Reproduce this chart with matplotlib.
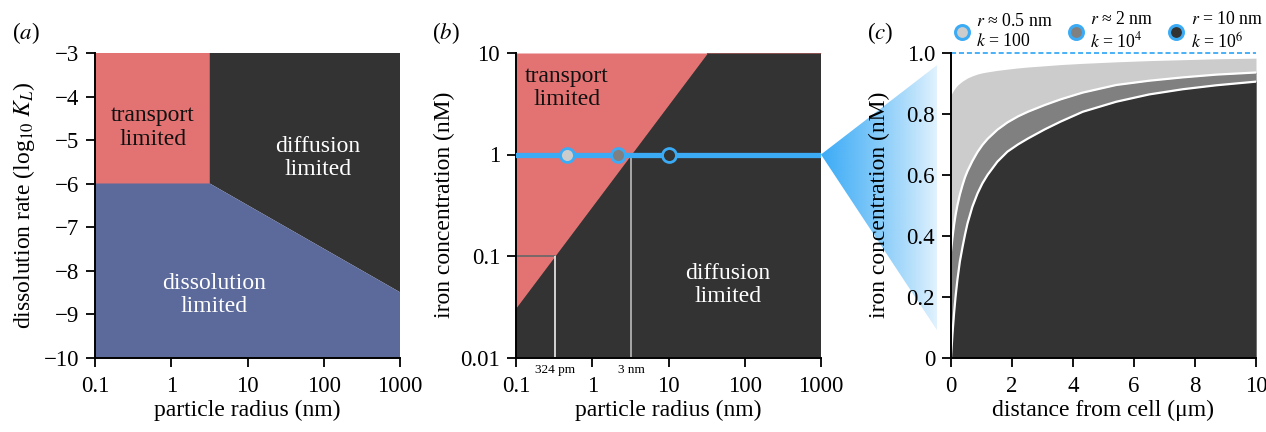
import numpy as np
import matplotlib
matplotlib.use('Agg')
import matplotlib.pyplot as plt
from matplotlib.patches import Polygon
from matplotlib.lines import Line2D
from matplotlib.colors import to_rgb

plt.rcParams['font.family'] = ['Liberation Serif', 'DejaVu Serif']
plt.rcParams['mathtext.fontset'] = 'stix'
plt.rcParams['font.size'] = 16.5
plt.rcParams['axes.unicode_minus'] = True

# ---------------- colours ----------------
RED = '#E37272'
BLUE_REGION = '#5C6A9B'
DARK = '#333333'
SKY = '#3BABF6'
LIGHT = '#CCCCCC'
MID = '#808080'

# ---------------- panel (a) data ----------------
a_transport_r = [0.1, 3.2, 3.2, 0.1]
a_transport_logk = [-3, -3, -6, -6]
a_diffusion_r = [3.2, 1000, 1000, 3.2]
a_diffusion_logk = [-3, -3, -8.5, -6]
a_dissolution_r = [0.1, 3.2, 1000, 1000, 0.1]
a_dissolution_logk = [-6, -6, -8.5, -10, -10]
r_ticks = [0.1, 1, 10, 100, 1000]
r_ticklabels = ['0.1', '1', '10', '100', '1000']
a_yticks = [-3, -4, -5, -6, -7, -8, -9, -10]

# ---------------- panel (b) data ----------------
b_boundary_r = [0.1, 1000]
b_boundary_c = [0.0309, 309]
b_line_c = 1.0
b_marker_r = [0.46, 2.15, 10]
b_marker_colors = [LIGHT, MID, DARK]
b_mark_r = [0.324, 3.24]
b_mark_c = [0.1, 1.0]
b_mark_labels = ['324 pm', '3 nm']
b_mark_colors = ['#EEEEEE', '#BBBBBB']
b_yticks = [0.01, 0.1, 1, 10]
b_yticklabels = ['0.01', '0.1', '1', '10']

# ---------------- panel (c) data ----------------
c_x = [0, 0.05, 0.1, 0.15, 0.21, 0.29, 0.38, 0.46, 0.54, 0.7, 0.87, 1.03, 1.2,
       1.52, 1.85, 2.2, 2.52, 3.07, 3.6, 4.32, 5.42, 6.5, 7.6, 8.7, 10]
c_small = [0.862, 0.872, 0.880, 0.887, 0.894, 0.901, 0.908, 0.913, 0.918, 0.925, 0.931,
           0.935, 0.938, 0.943, 0.947, 0.951, 0.954, 0.958, 0.962, 0.966, 0.971, 0.975,
           0.978, 0.981, 0.983]
c_medium = [0.35, 0.395, 0.435, 0.468, 0.5, 0.535, 0.567, 0.592, 0.612, 0.645, 0.675,
            0.698, 0.718, 0.748, 0.772, 0.792, 0.807, 0.829, 0.848, 0.870, 0.895, 0.909,
            0.920, 0.929, 0.936]
c_large = [0.0, 0.08, 0.145, 0.2, 0.255, 0.315, 0.364, 0.404, 0.44, 0.495, 0.539,
           0.572, 0.60, 0.643, 0.676, 0.70, 0.719, 0.749, 0.775, 0.807, 0.840, 0.864,
           0.881, 0.894, 0.906]
c_xticks = [0, 2, 4, 6, 8, 10]
c_yticks = [0, 0.2, 0.4, 0.6, 0.8, 1.0]
c_yticklabels = ['0', '0.2', '0.4', '0.6', '0.8', '1.0']
legend_r = ['0.5', '2', '10']
legend_rel = ['≈', '≈', '=']
legend_k = ['100', '10$^4$', '10$^6$']
legend_colors = [LIGHT, MID, DARK]

# ---------------- figure ----------------
W, H = 1266, 432
fig = plt.figure(figsize=(W / 100, H / 100), dpi=100)

def px_axes(left, top, right, bottom):
    return fig.add_axes([left / W, 1 - bottom / H, (right - left) / W, (bottom - top) / H])

ax_a = px_axes(95, 53, 400, 357.5)
ax_b = px_axes(516, 53, 821, 357.5)
ax_c = px_axes(951, 53, 1256, 357.5)

def style(ax):
    for s in ['top', 'right']:
        ax.spines[s].set_visible(False)
    for s in ['left', 'bottom']:
        ax.spines[s].set_linewidth(1.4)
    ax.tick_params(direction='out', length=6.5, width=1.3, labelsize=16.5)
    ax.tick_params(axis='x', pad=7)
    ax.tick_params(axis='y', pad=5)
    ax.minorticks_off()

# ----- panel a -----
ax_a.set_xscale('log')
ax_a.fill(a_transport_r, a_transport_logk, color=RED, lw=0)
ax_a.fill(a_diffusion_r, a_diffusion_logk, color=DARK, lw=0)
ax_a.fill(a_dissolution_r, a_dissolution_logk, color=BLUE_REGION, lw=0)
ax_a.set_xlim(0.1, 1000)
ax_a.set_ylim(-10, -3)
ax_a.set_xticks(r_ticks, r_ticklabels)
ax_a.set_yticks(a_yticks)
style(ax_a)
ax_a.text(0.19, 0.755, 'transport\nlimited', transform=ax_a.transAxes, ha='center', va='center',
          color='#111111', fontsize=17, linespacing=1.15)
ax_a.text(0.73, 0.655, 'diffusion\nlimited', transform=ax_a.transAxes, ha='center', va='center',
          color='white', fontsize=17, linespacing=1.15)
ax_a.text(0.39, 0.205, 'dissolution\nlimited', transform=ax_a.transAxes, ha='center', va='center',
          color='white', fontsize=17, linespacing=1.15)
ax_a.set_xlabel('particle radius (nm)', fontsize=17)
ax_a.set_ylabel(r'dissolution rate (log$_{10}$ $K_L$)', fontsize=17)
ax_a.xaxis.set_label_coords(0.5, -0.14)
ax_a.yaxis.set_label_coords(-0.19, 0.5)

# ----- panel b -----
ax_b.set_xscale('log')
ax_b.set_yscale('log')
ax_b.fill_between(b_boundary_r, 0.01, b_boundary_c, color=DARK, lw=0)
ax_b.fill_between(b_boundary_r, b_boundary_c, 10, color=RED, lw=0)
ax_b.hlines(b_mark_c[0], 0.1, b_mark_r[0], color='#666666', lw=1.2)
ax_b.vlines(b_mark_r, 0.01, b_mark_c, colors=b_mark_colors, lw=1.2)
for r, lab in zip(b_mark_r, b_mark_labels):
    ax_b.annotate(lab, xy=(r, 0), xycoords=('data', 'axes fraction'), xytext=(0, -5),
                  textcoords='offset points', ha='center', va='top', fontsize=9.5)
ax_b.axhline(b_line_c, color=SKY, lw=3.8, zorder=3)
for r, c in zip(b_marker_r, b_marker_colors):
    ax_b.plot([r], [b_line_c], marker='o', ms=10, mfc=c, mec=SKY, mew=2, zorder=4)
ax_b.set_xlim(0.1, 1000)
ax_b.set_ylim(0.01, 10)
ax_b.set_xticks(r_ticks, r_ticklabels)
ax_b.set_yticks(b_yticks, b_yticklabels)
style(ax_b)
ax_b.text(0.167, 0.885, 'transport\nlimited', transform=ax_b.transAxes, ha='center', va='center',
          color='#111111', fontsize=17, linespacing=1.15)
ax_b.text(0.695, 0.238, 'diffusion\nlimited', transform=ax_b.transAxes, ha='center', va='center',
          color='white', fontsize=17, linespacing=1.15)
ax_b.set_xlabel('particle radius (nm)', fontsize=17)
ax_b.set_ylabel('iron concentration (nM)', fontsize=17)
ax_b.xaxis.set_label_coords(0.5, -0.14)
ax_b.yaxis.set_label_coords(-0.2, 0.5)

# ----- panel c -----
ax_c.fill_between(c_x, 0, c_small, color=LIGHT, lw=0)
ax_c.fill_between(c_x, 0, c_medium, color=MID, lw=0)
ax_c.plot(c_x, c_medium, color='white', lw=1.6, solid_joinstyle='round')
ax_c.fill_between(c_x, 0, c_large, color=DARK, lw=0)
ax_c.plot(c_x, c_large, color='white', lw=1.6, solid_joinstyle='round')
ax_c.axhline(1.0, color=SKY, lw=1.3, ls=(0, (2.8, 1.6)), clip_on=False)
ax_c.set_xlim(0, 10)
ax_c.set_ylim(0, 1)
ax_c.set_xticks(c_xticks)
ax_c.set_yticks(c_yticks, c_yticklabels)
style(ax_c)
ax_c.set_xlabel('distance from cell (μm)', fontsize=17)
ax_c.set_ylabel('iron concentration (nM)', fontsize=17)
ax_c.xaxis.set_label_coords(0.5, -0.14)
ax_c.yaxis.set_label_coords(-0.2, 0.5)

handles = [Line2D([0], [0], marker='o', ls='none', ms=10, mfc=c, mec=SKY, mew=2.2)
           for c in legend_colors]
labels = [f'$r$ {rel} {r} nm\n$k$ = {k}' for r, rel, k in zip(legend_r, legend_rel, legend_k)]
ax_c.legend(handles, labels, loc='lower left', bbox_to_anchor=(0.01, 1.005), ncol=3,
            frameon=False, fontsize=12.8, handlelength=0.85, handletextpad=0.4,
            columnspacing=0.85, borderaxespad=0, borderpad=0, labelspacing=0)

# ----- panel letters -----
for x, lab in [(12, 'a'), (432, 'b'), (867, 'c')]:
    fig.text(x / W, 1 - 33 / H, f'(${lab}$)', ha='left', va='center', fontsize=16.5)

# ----- gradient connector between (b) and (c) -----
bg = fig.add_axes([0, 0, 1, 1], zorder=-5)
bg.axis('off')
inv = fig.transFigure.inverted()
apex = inv.transform(ax_b.transData.transform((1000, b_line_c)))
top = inv.transform(ax_c.transAxes.transform((-0.046, 0.96)))
bot = inv.transform(ax_c.transAxes.transform((-0.046, 0.09)))
n = 256
rgb = np.array(to_rgb(SKY))
grad = np.zeros((2, n, 4))
grad[..., :3] = rgb
grad[..., 3] = (np.linspace(1, 0, n) ** 0.8)[None, :]
x_end = top[0] + 12 / W
im = bg.imshow(grad, extent=[apex[0], x_end, bot[1], top[1]], aspect='auto', origin='lower')
poly = Polygon([apex, top, bot], closed=True, transform=bg.transData, facecolor='none', edgecolor='none')
bg.add_patch(poly)
im.set_clip_path(poly)
bg.set_xlim(0, 1)
bg.set_ylim(0, 1)

fig.savefig('out.png', dpi=100)
